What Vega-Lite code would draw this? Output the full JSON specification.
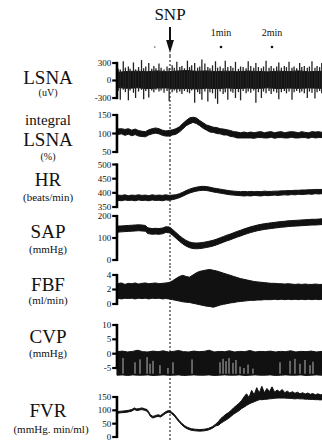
{
"$schema":"https://vega.github.io/schema/vega-lite/v6.json",
"autosize":{"type":"pad"},
"padding":0,
"background":"white",
"spacing":0,
"bounds":"flush",
"data":{"values":[{}]},
"config":{"view":{"stroke":null}},
"datasets":{
"lsnaband":[{"t":-62.4,"lo":-120,"hi":140},{"t":-50,"lo":-135,"hi":155},{"t":-38,"lo":-125,"hi":160},{"t":-27,"lo":-140,"hi":150},{"t":-15,"lo":-130,"hi":165},{"t":-4,"lo":-128,"hi":150},{"t":8,"lo":-142,"hi":162},{"t":20,"lo":-135,"hi":170},{"t":31,"lo":-145,"hi":158},{"t":43,"lo":-132,"hi":165},{"t":55,"lo":-140,"hi":152},{"t":67,"lo":-128,"hi":160},{"t":79,"lo":-138,"hi":150},{"t":91,"lo":-130,"hi":162},{"t":103,"lo":-136,"hi":155},{"t":115,"lo":-126,"hi":148},{"t":127,"lo":-138,"hi":160},{"t":139,"lo":-130,"hi":152},{"t":151,"lo":-135,"hi":165},{"t":163,"lo":-128,"hi":150},{"t":178.8,"lo":-134,"hi":158}],
"lsna":[{"t":-61,"lo":-180,"hi":200},{"t":-58.5,"lo":-330,"hi":190},{"t":-55,"lo":-160,"hi":330},{"t":-52.5,"lo":-200,"hi":220},{"t":-49,"lo":-340,"hi":240},{"t":-47,"lo":-170,"hi":200},{"t":-43,"lo":-210,"hi":310},{"t":-40.5,"lo":-300,"hi":190},{"t":-37,"lo":-190,"hi":230},{"t":-33.5,"lo":-160,"hi":350},{"t":-31,"lo":-320,"hi":210},{"t":-28.5,"lo":-180,"hi":240},{"t":-25,"lo":-290,"hi":300},{"t":-21.5,"lo":-170,"hi":200},{"t":-19,"lo":-200,"hi":250},{"t":-16.5,"lo":-160,"hi":210},{"t":-13,"lo":-190,"hi":290},{"t":-10.5,"lo":-170,"hi":220},{"t":-7,"lo":-210,"hi":190},{"t":-3.5,"lo":-180,"hi":240},{"t":-1,"lo":-350,"hi":210},{"t":2.5,"lo":-200,"hi":260},{"t":5,"lo":-170,"hi":220},{"t":8,"lo":-210,"hi":320},{"t":11.5,"lo":-190,"hi":230},{"t":14,"lo":-230,"hi":250},{"t":17,"lo":-180,"hi":210},{"t":20.5,"lo":-200,"hi":340},{"t":23,"lo":-220,"hi":230},{"t":25.5,"lo":-170,"hi":260},{"t":29,"lo":-380,"hi":300},{"t":32.5,"lo":-200,"hi":220},{"t":35,"lo":-230,"hi":240},{"t":37.5,"lo":-330,"hi":360},{"t":41,"lo":-190,"hi":290},{"t":44.5,"lo":-360,"hi":230},{"t":47,"lo":-200,"hi":210},{"t":50,"lo":-220,"hi":260},{"t":53.5,"lo":-310,"hi":330},{"t":56,"lo":-400,"hi":220},{"t":59,"lo":-190,"hi":240},{"t":62.5,"lo":-230,"hi":210},{"t":65,"lo":-200,"hi":340},{"t":68,"lo":-330,"hi":230},{"t":71.5,"lo":-190,"hi":250},{"t":74,"lo":-210,"hi":220},{"t":77,"lo":-300,"hi":320},{"t":80.5,"lo":-200,"hi":200},{"t":83,"lo":-340,"hi":240},{"t":86,"lo":-180,"hi":230},{"t":89.5,"lo":-220,"hi":210},{"t":92,"lo":-190,"hi":330},{"t":95,"lo":-210,"hi":250},{"t":98.5,"lo":-170,"hi":220},{"t":101,"lo":-380,"hi":300},{"t":104,"lo":-200,"hi":230},{"t":107.5,"lo":-300,"hi":210},{"t":110,"lo":-190,"hi":240},{"t":113,"lo":-220,"hi":340},{"t":116.5,"lo":-180,"hi":220},{"t":119,"lo":-230,"hi":250},{"t":122,"lo":-190,"hi":210},{"t":125.5,"lo":-210,"hi":240},{"t":128,"lo":-320,"hi":310},{"t":131,"lo":-200,"hi":220},{"t":134.5,"lo":-180,"hi":250},{"t":137,"lo":-220,"hi":230},{"t":140,"lo":-190,"hi":320},{"t":143.5,"lo":-330,"hi":220},{"t":146,"lo":-200,"hi":240},{"t":149,"lo":-180,"hi":210},{"t":152.5,"lo":-210,"hi":300},{"t":155,"lo":-190,"hi":230},{"t":158,"lo":-220,"hi":250},{"t":161.5,"lo":-300,"hi":220},{"t":164,"lo":-190,"hi":240},{"t":167,"lo":-210,"hi":330},{"t":170.5,"lo":-310,"hi":220},{"t":173,"lo":-200,"hi":250},{"t":176,"lo":-180,"hi":230},{"t":178.5,"lo":-220,"hi":300}],
"ilsna":[{"t":-62.4,"lo":97,"hi":112},{"t":-57,"lo":99,"hi":113},{"t":-53,"lo":95,"hi":111},{"t":-49,"lo":98,"hi":113},{"t":-45,"lo":94,"hi":109},{"t":-41,"lo":97,"hi":112},{"t":-37,"lo":93,"hi":108},{"t":-33,"lo":92,"hi":106},{"t":-29,"lo":91,"hi":105},{"t":-25,"lo":96,"hi":110},{"t":-21,"lo":99,"hi":113},{"t":-17,"lo":101,"hi":115},{"t":-13,"lo":99,"hi":113},{"t":-9,"lo":95,"hi":109},{"t":-5,"lo":93,"hi":107},{"t":-1,"lo":93,"hi":108},{"t":3,"lo":96,"hi":110},{"t":7,"lo":98,"hi":113},{"t":11,"lo":104,"hi":118},{"t":15,"lo":112,"hi":127},{"t":19,"lo":121,"hi":135},{"t":23,"lo":126,"hi":142},{"t":27,"lo":130,"hi":144},{"t":31,"lo":127,"hi":142},{"t":35,"lo":121,"hi":135},{"t":39,"lo":114,"hi":129},{"t":43,"lo":109,"hi":123},{"t":47,"lo":104,"hi":120},{"t":51,"lo":103,"hi":117},{"t":55,"lo":100,"hi":116},{"t":59,"lo":99,"hi":113},{"t":63,"lo":96,"hi":112},{"t":67,"lo":96,"hi":110},{"t":71,"lo":92,"hi":108},{"t":75,"lo":91,"hi":105},{"t":79,"lo":88,"hi":104},{"t":83,"lo":88,"hi":102},{"t":87,"lo":88,"hi":104},{"t":91,"lo":88,"hi":102},{"t":95,"lo":88,"hi":104},{"t":99,"lo":87,"hi":102},{"t":103,"lo":89,"hi":104},{"t":107,"lo":89,"hi":105},{"t":111,"lo":88,"hi":102},{"t":115,"lo":88,"hi":104},{"t":119,"lo":90,"hi":105},{"t":123,"lo":87,"hi":102},{"t":127,"lo":89,"hi":104},{"t":131,"lo":89,"hi":105},{"t":135,"lo":88,"hi":102},{"t":139,"lo":88,"hi":104},{"t":143,"lo":90,"hi":105},{"t":147,"lo":88,"hi":104},{"t":151,"lo":88,"hi":102},{"t":155,"lo":89,"hi":105},{"t":159,"lo":89,"hi":103},{"t":163,"lo":87,"hi":102},{"t":167,"lo":90,"hi":105},{"t":171,"lo":88,"hi":104},{"t":175,"lo":89,"hi":105},{"t":178.8,"lo":89,"hi":103}],
"hr":[{"t":-62.4,"lo":374,"hi":392},{"t":-57,"lo":372,"hi":391},{"t":-53,"lo":375,"hi":393},{"t":-49,"lo":373,"hi":390},{"t":-45,"lo":374,"hi":392},{"t":-41,"lo":372,"hi":391},{"t":-37,"lo":375,"hi":393},{"t":-33,"lo":373,"hi":391},{"t":-29,"lo":374,"hi":392},{"t":-25,"lo":372,"hi":390},{"t":-21,"lo":375,"hi":393},{"t":-17,"lo":373,"hi":391},{"t":-13,"lo":374,"hi":392},{"t":-9,"lo":372,"hi":391},{"t":-5,"lo":375,"hi":393},{"t":-1,"lo":374,"hi":391},{"t":3,"lo":376,"hi":392},{"t":7,"lo":379,"hi":393},{"t":11,"lo":383,"hi":397},{"t":15,"lo":388,"hi":402},{"t":19,"lo":394,"hi":408},{"t":23,"lo":399,"hi":413},{"t":27,"lo":403,"hi":417},{"t":31,"lo":406,"hi":420},{"t":35,"lo":408,"hi":422},{"t":39,"lo":409,"hi":423},{"t":43,"lo":408,"hi":422},{"t":47,"lo":406,"hi":420},{"t":51,"lo":403,"hi":417},{"t":55,"lo":401,"hi":415},{"t":59,"lo":399,"hi":413},{"t":63,"lo":397,"hi":411},{"t":67,"lo":395,"hi":409},{"t":71,"lo":393,"hi":407},{"t":75,"lo":392,"hi":406},{"t":79,"lo":391,"hi":405},{"t":83,"lo":390,"hi":404},{"t":87,"lo":389,"hi":405},{"t":91,"lo":390,"hi":404},{"t":95,"lo":389,"hi":405},{"t":99,"lo":391,"hi":404},{"t":103,"lo":390,"hi":405},{"t":107,"lo":389,"hi":404},{"t":111,"lo":391,"hi":406},{"t":115,"lo":390,"hi":405},{"t":119,"lo":391,"hi":405},{"t":123,"lo":392,"hi":406},{"t":127,"lo":391,"hi":406},{"t":131,"lo":392,"hi":407},{"t":135,"lo":393,"hi":407},{"t":139,"lo":392,"hi":408},{"t":143,"lo":394,"hi":408},{"t":147,"lo":393,"hi":409},{"t":151,"lo":395,"hi":409},{"t":155,"lo":394,"hi":410},{"t":159,"lo":395,"hi":410},{"t":163,"lo":396,"hi":411},{"t":167,"lo":395,"hi":411},{"t":171,"lo":397,"hi":412},{"t":175,"lo":396,"hi":412},{"t":178.8,"lo":397,"hi":412}],
"sap":[{"t":-62.4,"lo":126,"hi":154},{"t":-57,"lo":128,"hi":155},{"t":-53,"lo":129,"hi":156},{"t":-49,"lo":130,"hi":157},{"t":-45,"lo":131,"hi":158},{"t":-41,"lo":132,"hi":159},{"t":-37,"lo":133,"hi":160},{"t":-33,"lo":132,"hi":159},{"t":-29,"lo":131,"hi":157},{"t":-26,"lo":120,"hi":146},{"t":-21,"lo":117,"hi":143},{"t":-17,"lo":118,"hi":144},{"t":-13,"lo":117,"hi":143},{"t":-9,"lo":119,"hi":145},{"t":-5,"lo":125,"hi":151},{"t":-1,"lo":124,"hi":150},{"t":3,"lo":113,"hi":139},{"t":7,"lo":99,"hi":125},{"t":11,"lo":85,"hi":111},{"t":15,"lo":73,"hi":99},{"t":19,"lo":63,"hi":89},{"t":23,"lo":56,"hi":82},{"t":27,"lo":52,"hi":78},{"t":31,"lo":51,"hi":77},{"t":35,"lo":52,"hi":78},{"t":39,"lo":54,"hi":80},{"t":43,"lo":57,"hi":83},{"t":47,"lo":60,"hi":86},{"t":51,"lo":64,"hi":90},{"t":55,"lo":69,"hi":95},{"t":59,"lo":75,"hi":101},{"t":63,"lo":81,"hi":107},{"t":67,"lo":87,"hi":113},{"t":71,"lo":92,"hi":118},{"t":75,"lo":98,"hi":124},{"t":79,"lo":104,"hi":130},{"t":83,"lo":109,"hi":135},{"t":87,"lo":115,"hi":141},{"t":91,"lo":120,"hi":146},{"t":95,"lo":125,"hi":151},{"t":99,"lo":129,"hi":155},{"t":103,"lo":133,"hi":159},{"t":107,"lo":136,"hi":162},{"t":111,"lo":139,"hi":165},{"t":115,"lo":141,"hi":167},{"t":119,"lo":143,"hi":169},{"t":123,"lo":145,"hi":171},{"t":127,"lo":147,"hi":173},{"t":131,"lo":149,"hi":175},{"t":135,"lo":150,"hi":176},{"t":139,"lo":152,"hi":178},{"t":143,"lo":153,"hi":179},{"t":147,"lo":154,"hi":180},{"t":151,"lo":155,"hi":181},{"t":155,"lo":156,"hi":182},{"t":159,"lo":157,"hi":183},{"t":163,"lo":158,"hi":184},{"t":167,"lo":159,"hi":185},{"t":171,"lo":159,"hi":185},{"t":175,"lo":160,"hi":186},{"t":178.8,"lo":161,"hi":187}],
"fbf":[{"t":-62.4,"lo":0.8,"hi":2.8},{"t":-57,"lo":0.7,"hi":2.9},{"t":-53,"lo":0.8,"hi":2.7},{"t":-49,"lo":0.75,"hi":2.85},{"t":-45,"lo":0.8,"hi":2.8},{"t":-41,"lo":0.7,"hi":2.9},{"t":-37,"lo":0.8,"hi":2.75},{"t":-33,"lo":0.75,"hi":2.85},{"t":-29,"lo":0.8,"hi":2.9},{"t":-25,"lo":0.7,"hi":2.8},{"t":-21,"lo":0.8,"hi":2.85},{"t":-17,"lo":0.75,"hi":2.9},{"t":-13,"lo":0.8,"hi":2.8},{"t":-9,"lo":0.7,"hi":2.85},{"t":-5,"lo":0.75,"hi":2.9},{"t":-1,"lo":0.7,"hi":2.95},{"t":3,"lo":0.6,"hi":3.2},{"t":7,"lo":0.5,"hi":3.5},{"t":11,"lo":0.4,"hi":3.8},{"t":15,"lo":0.3,"hi":3.95},{"t":19,"lo":0.25,"hi":3.8},{"t":23,"lo":0.2,"hi":3.7},{"t":27,"lo":0.1,"hi":4.0},{"t":31,"lo":0.0,"hi":4.3},{"t":35,"lo":-0.1,"hi":4.5},{"t":39,"lo":-0.2,"hi":4.6},{"t":43,"lo":-0.3,"hi":4.7},{"t":47,"lo":-0.35,"hi":4.75},{"t":51,"lo":-0.45,"hi":4.65},{"t":55,"lo":-0.3,"hi":4.55},{"t":59,"lo":-0.15,"hi":4.4},{"t":63,"lo":-0.05,"hi":4.25},{"t":67,"lo":0.05,"hi":4.1},{"t":71,"lo":0.15,"hi":3.95},{"t":75,"lo":0.2,"hi":3.8},{"t":79,"lo":0.3,"hi":3.65},{"t":83,"lo":0.35,"hi":3.5},{"t":87,"lo":0.4,"hi":3.4},{"t":91,"lo":0.45,"hi":3.3},{"t":95,"lo":0.5,"hi":3.2},{"t":99,"lo":0.5,"hi":3.1},{"t":103,"lo":0.55,"hi":3.05},{"t":107,"lo":0.55,"hi":3.0},{"t":111,"lo":0.6,"hi":2.95},{"t":115,"lo":0.6,"hi":2.9},{"t":119,"lo":0.6,"hi":2.85},{"t":123,"lo":0.65,"hi":2.85},{"t":127,"lo":0.6,"hi":2.8},{"t":131,"lo":0.65,"hi":2.8},{"t":135,"lo":0.6,"hi":2.75},{"t":139,"lo":0.65,"hi":2.8},{"t":143,"lo":0.6,"hi":2.75},{"t":147,"lo":0.65,"hi":2.7},{"t":151,"lo":0.6,"hi":2.75},{"t":155,"lo":0.65,"hi":2.7},{"t":159,"lo":0.6,"hi":2.75},{"t":163,"lo":0.65,"hi":2.7},{"t":167,"lo":0.6,"hi":2.7},{"t":171,"lo":0.65,"hi":2.75},{"t":175,"lo":0.6,"hi":2.7},{"t":178.8,"lo":0.65,"hi":2.7}],
"cvp":[{"t":-62.4,"lo":-7.5,"hi":0.7},{"t":-56,"lo":-7.4,"hi":0.9},{"t":-50,"lo":-7.6,"hi":0.6},{"t":-44,"lo":-7.4,"hi":0.8},{"t":-38,"lo":-7.5,"hi":1.2},{"t":-32,"lo":-7.5,"hi":0.7},{"t":-26,"lo":-7.4,"hi":0.6},{"t":-20,"lo":-7.6,"hi":0.9},{"t":-14,"lo":-7.5,"hi":0.7},{"t":-8,"lo":-7.4,"hi":1.0},{"t":-2,"lo":-7.5,"hi":0.6},{"t":4,"lo":-7.5,"hi":0.8},{"t":10,"lo":-7.4,"hi":1.1},{"t":16,"lo":-7.6,"hi":0.7},{"t":22,"lo":-7.5,"hi":0.6},{"t":28,"lo":-7.4,"hi":0.9},{"t":34,"lo":-7.5,"hi":0.7},{"t":40,"lo":-7.5,"hi":0.8},{"t":46,"lo":-7.4,"hi":1.2},{"t":52,"lo":-7.6,"hi":0.6},{"t":58,"lo":-7.5,"hi":0.8},{"t":64,"lo":-7.4,"hi":0.7},{"t":70,"lo":-7.5,"hi":1.0},{"t":76,"lo":-7.5,"hi":0.6},{"t":82,"lo":-7.4,"hi":0.8},{"t":88,"lo":-7.6,"hi":0.7},{"t":94,"lo":-7.5,"hi":1.1},{"t":100,"lo":-7.4,"hi":0.6},{"t":106,"lo":-7.5,"hi":0.8},{"t":112,"lo":-7.5,"hi":0.7},{"t":118,"lo":-7.4,"hi":0.9},{"t":124,"lo":-7.6,"hi":0.6},{"t":130,"lo":-7.5,"hi":0.8},{"t":136,"lo":-7.4,"hi":0.7},{"t":142,"lo":-7.5,"hi":1.0},{"t":148,"lo":-7.5,"hi":0.6},{"t":154,"lo":-7.4,"hi":0.8},{"t":160,"lo":-7.6,"hi":0.7},{"t":166,"lo":-7.5,"hi":0.9},{"t":172,"lo":-7.4,"hi":0.6},{"t":178.8,"lo":-7.5,"hi":0.8}],
"cvpg":[{"t":-55.3,"lo":-7,"hi":-1.5},{"t":-41.2,"lo":-7,"hi":-3},{"t":-35.3,"lo":-7,"hi":-2},{"t":-27,"lo":-7,"hi":-1.2},{"t":-23.5,"lo":-7,"hi":-3.5},{"t":-20,"lo":-7,"hi":-2.5},{"t":-11.8,"lo":-7,"hi":-4},{"t":-2.4,"lo":-7,"hi":-5},{"t":3.5,"lo":-7,"hi":-3},{"t":25.9,"lo":-7,"hi":-2},{"t":58.8,"lo":-7,"hi":-3},{"t":62.4,"lo":-7,"hi":-1.8},{"t":65.9,"lo":-7,"hi":-2.6},{"t":69.4,"lo":-7,"hi":-1.5},{"t":74.1,"lo":-7,"hi":-3.2},{"t":77.6,"lo":-7,"hi":-2.2},{"t":82.4,"lo":-7,"hi":-4.5},{"t":87,"lo":-7,"hi":-5},{"t":91.8,"lo":-7,"hi":-3.8},{"t":97.6,"lo":-7,"hi":-5.2},{"t":129.4,"lo":-7,"hi":-3},{"t":141.2,"lo":-7,"hi":-2.5},{"t":147,"lo":-7,"hi":-1.8},{"t":152.9,"lo":-7,"hi":-3.5},{"t":158.8,"lo":-7,"hi":-2.2},{"t":164.7,"lo":-7,"hi":-4},{"t":168.2,"lo":-7,"hi":-2.8}],
"fvr":[{"t":-62.4,"lo":89,"hi":95},{"t":-57,"lo":91,"hi":97},{"t":-53,"lo":92,"hi":98},{"t":-49,"lo":94,"hi":100},{"t":-45,"lo":97,"hi":103},{"t":-42,"lo":103,"hi":109},{"t":-39,"lo":99,"hi":105},{"t":-36,"lo":101,"hi":107},{"t":-33,"lo":103,"hi":109},{"t":-30,"lo":100,"hi":106},{"t":-27,"lo":97,"hi":103},{"t":-25,"lo":88,"hi":94},{"t":-23,"lo":77,"hi":83},{"t":-20,"lo":71,"hi":77},{"t":-17,"lo":75,"hi":81},{"t":-14,"lo":77,"hi":83},{"t":-11,"lo":75,"hi":81},{"t":-8,"lo":82,"hi":88},{"t":-5,"lo":89,"hi":95},{"t":-2,"lo":93,"hi":99},{"t":0,"lo":92,"hi":98},{"t":2,"lo":87,"hi":93},{"t":5,"lo":79,"hi":85},{"t":8,"lo":67,"hi":73},{"t":11,"lo":55,"hi":61},{"t":14,"lo":45,"hi":51},{"t":17,"lo":37,"hi":43},{"t":20,"lo":31,"hi":37},{"t":25,"lo":25,"hi":31},{"t":30,"lo":23,"hi":29},{"t":35,"lo":22,"hi":28},{"t":40,"lo":23,"hi":29},{"t":45,"lo":26,"hi":32},{"t":50,"lo":33,"hi":39},{"t":54,"lo":42,"hi":49},{"t":57,"lo":44,"hi":58},{"t":60,"lo":52,"hi":70},{"t":63,"lo":58,"hi":78},{"t":66,"lo":64,"hi":86},{"t":69,"lo":70,"hi":92},{"t":72,"lo":78,"hi":100},{"t":75,"lo":86,"hi":110},{"t":78,"lo":92,"hi":118},{"t":81,"lo":98,"hi":126},{"t":84,"lo":106,"hi":136},{"t":87,"lo":112,"hi":150},{"t":90,"lo":118,"hi":162},{"t":93,"lo":124,"hi":148},{"t":96,"lo":128,"hi":175},{"t":99,"lo":132,"hi":158},{"t":102,"lo":136,"hi":185},{"t":105,"lo":140,"hi":165},{"t":108,"lo":140,"hi":190},{"t":111,"lo":141,"hi":166},{"t":114,"lo":142,"hi":182},{"t":117,"lo":143,"hi":170},{"t":120,"lo":144,"hi":188},{"t":123,"lo":145,"hi":168},{"t":126,"lo":146,"hi":176},{"t":129,"lo":146,"hi":170},{"t":132,"lo":146,"hi":178},{"t":135,"lo":146,"hi":166},{"t":138,"lo":145,"hi":172},{"t":141,"lo":145,"hi":165},{"t":144,"lo":144,"hi":170},{"t":147,"lo":143,"hi":164},{"t":150,"lo":144,"hi":168},{"t":153,"lo":143,"hi":162},{"t":156,"lo":143,"hi":166},{"t":159,"lo":142,"hi":161},{"t":162,"lo":142,"hi":165},{"t":165,"lo":141,"hi":160},{"t":168,"lo":141,"hi":163},{"t":171,"lo":140,"hi":158},{"t":174,"lo":140,"hi":162},{"t":177,"lo":139,"hi":158},{"t":178.8,"lo":140,"hi":160}],
"marks":[{"t":60,"label":"1min"},{"t":120,"label":"2min"}],
"k1":[{"v":-300,"label":"-300"},{"v":0,"label":"0"},{"v":300,"label":"300"}],
"k2":[{"v":50,"label":"50"},{"v":100,"label":"100"},{"v":150,"label":"150"}],
"k3":[{"v":350,"label":"350"},{"v":400,"label":"400"},{"v":450,"label":"450"},{"v":500,"label":"500"}],
"k4":[{"v":0,"label":"0"},{"v":100,"label":"100"},{"v":200,"label":"200"}],
"k5":[{"v":0,"label":"0"},{"v":2,"label":"2"},{"v":4,"label":"4"}],
"k6":[{"v":-5,"label":"-5"},{"v":0,"label":"0"},{"v":5,"label":"5"},{"v":10,"label":"10"}],
"k7":[{"v":0,"label":"0"},{"v":50,"label":"50"},{"v":100,"label":"100"},{"v":150,"label":"150"}]
},
"vconcat":[
{"width":322,"height":56,"layer":[
 {"mark":{"type":"rule","strokeDash":[2,2],"strokeWidth":1.3,"color":"#444"},"encoding":{"x":{"datum":0,"type":"quantitative","scale":{"domain":[-200,178.8],"nice":false,"zero":false},"axis":null},"y":{"datum":0,"type":"quantitative","scale":{"domain":[0,56],"nice":false,"zero":false},"axis":null},"y2":{"datum":4}}},
 {"mark":{"type":"text","text":"SNP","font":"Liberation Serif","fontSize":17,"color":"#111","baseline":"middle"},"encoding":{"x":{"datum":0,"type":"quantitative","scale":{"domain":[-200,178.8],"nice":false,"zero":false},"axis":null},"y":{"datum":41,"type":"quantitative","scale":{"domain":[0,56],"nice":false,"zero":false},"axis":null}}},
 {"mark":{"type":"rule","strokeWidth":2,"color":"#111"},"encoding":{"x":{"datum":0,"type":"quantitative","scale":{"domain":[-200,178.8],"nice":false,"zero":false},"axis":null},"y":{"datum":29,"type":"quantitative","scale":{"domain":[0,56],"nice":false,"zero":false},"axis":null},"y2":{"datum":14}}},
 {"mark":{"type":"point","shape":"M-0.6,-1L0.6,-1L0,1Z","size":169,"filled":true,"color":"#111","opacity":1},"encoding":{"x":{"datum":0,"type":"quantitative","scale":{"domain":[-200,178.8],"nice":false,"zero":false},"axis":null},"y":{"datum":9.5,"type":"quantitative","scale":{"domain":[0,56],"nice":false,"zero":false},"axis":null}}},
 {"data":{"name":"marks"},"mark":{"type":"text","font":"Liberation Serif","fontSize":10,"color":"#111","baseline":"middle"},"encoding":{"x":{"field":"t","type":"quantitative","scale":{"domain":[-200,178.8],"nice":false,"zero":false},"axis":null},"y":{"datum":23,"type":"quantitative","scale":{"domain":[0,56],"nice":false,"zero":false},"axis":null},"text":{"field":"label"}}},
 {"data":{"name":"marks"},"mark":{"type":"point","shape":"circle","size":7,"filled":true,"color":"#111","opacity":1},"encoding":{"x":{"field":"t","type":"quantitative","scale":{"domain":[-200,178.8],"nice":false,"zero":false},"axis":null},"y":{"datum":9,"type":"quantitative","scale":{"domain":[0,56],"nice":false,"zero":false},"axis":null}}},
 {"mark":{"type":"point","shape":"circle","size":3,"filled":true,"color":"#777","opacity":1},"encoding":{"x":{"datum":-18,"type":"quantitative","scale":{"domain":[-200,178.8],"nice":false,"zero":false},"axis":null},"y":{"datum":9,"type":"quantitative","scale":{"domain":[0,56],"nice":false,"zero":false},"axis":null}}}
]},
{"width":322,"height":51,"layer":[
 {"mark":{"type":"rule","strokeDash":[2,2],"strokeWidth":1.3,"color":"#444"},"encoding":{"x":{"datum":0,"type":"quantitative","scale":{"domain":[-200,178.8],"nice":false,"zero":false},"axis":null}}},
 {"data":{"name":"lsnaband"},"mark":{"type":"area","color":"#111","stroke":"#111","strokeWidth":1},"encoding":{"x":{"field":"t","type":"quantitative","scale":{"domain":[-200,178.8],"nice":false,"zero":false},"axis":null},"y":{"field":"lo","type":"quantitative","scale":{"domain":[-454.3,420],"nice":false,"zero":false},"axis":null},"y2":{"field":"hi"}}},
 {"data":{"name":"lsna"},"mark":{"type":"rule","strokeWidth":1.3,"color":"#222"},"encoding":{"x":{"field":"t","type":"quantitative","scale":{"domain":[-200,178.8],"nice":false,"zero":false},"axis":null},"y":{"field":"lo","type":"quantitative","scale":{"domain":[-454.3,420],"nice":false,"zero":false},"axis":null},"y2":{"field":"hi"}}},
 {"mark":{"type":"rule","strokeWidth":2.6,"color":"black"},"encoding":{"x":{"datum":-62.4,"type":"quantitative","scale":{"domain":[-200,178.8],"nice":false,"zero":false},"axis":null},"y":{"datum":-320,"type":"quantitative","scale":{"domain":[-454.3,420],"nice":false,"zero":false},"axis":null},"y2":{"datum":320}}},
 {"data":{"name":"k1"},"mark":{"type":"rule","strokeWidth":2.2,"color":"black"},"encoding":{"x":{"datum":-68.0,"type":"quantitative","scale":{"domain":[-200,178.8],"nice":false,"zero":false},"axis":null},"x2":{"datum":-62.4},"y":{"field":"v","type":"quantitative","scale":{"domain":[-454.3,420],"nice":false,"zero":false},"axis":null}}},
 {"data":{"name":"k1"},"mark":{"type":"text","align":"right","baseline":"middle","font":"Liberation Serif","fontSize":9,"color":"#111"},"encoding":{"x":{"datum":-69.2,"type":"quantitative","scale":{"domain":[-200,178.8],"nice":false,"zero":false},"axis":null},"y":{"field":"v","type":"quantitative","scale":{"domain":[-454.3,420],"nice":false,"zero":false},"axis":null},"text":{"field":"label"}}},
 {"mark":{"type":"text","text":"LSNA","font":"Liberation Serif","fontSize":19,"color":"#111","baseline":"middle"},"encoding":{"x":{"datum":-143.5,"type":"quantitative","scale":{"domain":[-200,178.8],"nice":false,"zero":false},"axis":null},"y":{"datum":43,"type":"quantitative","scale":{"domain":[-454.3,420],"nice":false,"zero":false},"axis":null}}},
 {"mark":{"type":"text","text":"(uV)","font":"Liberation Serif","fontSize":10,"color":"#111","baseline":"middle"},"encoding":{"x":{"datum":-143.5,"type":"quantitative","scale":{"domain":[-200,178.8],"nice":false,"zero":false},"axis":null},"y":{"datum":-214,"type":"quantitative","scale":{"domain":[-454.3,420],"nice":false,"zero":false},"axis":null}}}
]},
{"width":322,"height":53,"layer":[
 {"mark":{"type":"rule","strokeDash":[2,2],"strokeWidth":1.3,"color":"#444"},"encoding":{"x":{"datum":0,"type":"quantitative","scale":{"domain":[-200,178.8],"nice":false,"zero":false},"axis":null}}},
 {"data":{"name":"ilsna"},"mark":{"type":"area","color":"#111","stroke":"#111","strokeWidth":1},"encoding":{"x":{"field":"t","type":"quantitative","scale":{"domain":[-200,178.8],"nice":false,"zero":false},"axis":null},"y":{"field":"lo","type":"quantitative","scale":{"domain":[28.4,171.6],"nice":false,"zero":false},"axis":null},"y2":{"field":"hi"}}},
 {"mark":{"type":"rule","strokeWidth":2.6,"color":"black"},"encoding":{"x":{"datum":-62.4,"type":"quantitative","scale":{"domain":[-200,178.8],"nice":false,"zero":false},"axis":null},"y":{"datum":47,"type":"quantitative","scale":{"domain":[28.4,171.6],"nice":false,"zero":false},"axis":null},"y2":{"datum":153}}},
 {"data":{"name":"k2"},"mark":{"type":"rule","strokeWidth":2.2,"color":"black"},"encoding":{"x":{"datum":-68.0,"type":"quantitative","scale":{"domain":[-200,178.8],"nice":false,"zero":false},"axis":null},"x2":{"datum":-62.4},"y":{"field":"v","type":"quantitative","scale":{"domain":[28.4,171.6],"nice":false,"zero":false},"axis":null}}},
 {"data":{"name":"k2"},"mark":{"type":"text","align":"right","baseline":"middle","font":"Liberation Serif","fontSize":9,"color":"#111"},"encoding":{"x":{"datum":-69.2,"type":"quantitative","scale":{"domain":[-200,178.8],"nice":false,"zero":false},"axis":null},"y":{"field":"v","type":"quantitative","scale":{"domain":[28.4,171.6],"nice":false,"zero":false},"axis":null},"text":{"field":"label"}}},
 {"mark":{"type":"text","text":"integral","font":"Liberation Serif","fontSize":15,"color":"#111","baseline":"middle"},"encoding":{"x":{"datum":-143.5,"type":"quantitative","scale":{"domain":[-200,178.8],"nice":false,"zero":false},"axis":null},"y":{"datum":136.5,"type":"quantitative","scale":{"domain":[28.4,171.6],"nice":false,"zero":false},"axis":null}}},
 {"mark":{"type":"text","text":"LSNA","font":"Liberation Serif","fontSize":19,"color":"#111","baseline":"middle"},"encoding":{"x":{"datum":-143.5,"type":"quantitative","scale":{"domain":[-200,178.8],"nice":false,"zero":false},"axis":null},"y":{"datum":82.4,"type":"quantitative","scale":{"domain":[28.4,171.6],"nice":false,"zero":false},"axis":null}}},
 {"mark":{"type":"text","text":"(%)","font":"Liberation Serif","fontSize":10,"color":"#111","baseline":"middle"},"encoding":{"x":{"datum":-143.5,"type":"quantitative","scale":{"domain":[-200,178.8],"nice":false,"zero":false},"axis":null},"y":{"datum":36.5,"type":"quantitative","scale":{"domain":[28.4,171.6],"nice":false,"zero":false},"axis":null}}}
]},
{"width":322,"height":51,"layer":[
 {"mark":{"type":"rule","strokeDash":[2,2],"strokeWidth":1.3,"color":"#444"},"encoding":{"x":{"datum":0,"type":"quantitative","scale":{"domain":[-200,178.8],"nice":false,"zero":false},"axis":null}}},
 {"data":{"name":"hr"},"mark":{"type":"area","color":"#111","stroke":"#111","strokeWidth":1},"encoding":{"x":{"field":"t","type":"quantitative","scale":{"domain":[-200,178.8],"nice":false,"zero":false},"axis":null},"y":{"field":"lo","type":"quantitative","scale":{"domain":[335.9,515.9],"nice":false,"zero":false},"axis":null},"y2":{"field":"hi"}}},
 {"mark":{"type":"rule","strokeWidth":2.6,"color":"black"},"encoding":{"x":{"datum":-62.4,"type":"quantitative","scale":{"domain":[-200,178.8],"nice":false,"zero":false},"axis":null},"y":{"datum":346,"type":"quantitative","scale":{"domain":[335.9,515.9],"nice":false,"zero":false},"axis":null},"y2":{"datum":504}}},
 {"data":{"name":"k3"},"mark":{"type":"rule","strokeWidth":2.2,"color":"black"},"encoding":{"x":{"datum":-68.0,"type":"quantitative","scale":{"domain":[-200,178.8],"nice":false,"zero":false},"axis":null},"x2":{"datum":-62.4},"y":{"field":"v","type":"quantitative","scale":{"domain":[335.9,515.9],"nice":false,"zero":false},"axis":null}}},
 {"data":{"name":"k3"},"mark":{"type":"text","align":"right","baseline":"middle","font":"Liberation Serif","fontSize":9,"color":"#111"},"encoding":{"x":{"datum":-69.2,"type":"quantitative","scale":{"domain":[-200,178.8],"nice":false,"zero":false},"axis":null},"y":{"field":"v","type":"quantitative","scale":{"domain":[335.9,515.9],"nice":false,"zero":false},"axis":null},"text":{"field":"label"}}},
 {"mark":{"type":"text","text":"HR","font":"Liberation Serif","fontSize":19,"color":"#111","baseline":"middle"},"encoding":{"x":{"datum":-143.5,"type":"quantitative","scale":{"domain":[-200,178.8],"nice":false,"zero":false},"axis":null},"y":{"datum":445,"type":"quantitative","scale":{"domain":[335.9,515.9],"nice":false,"zero":false},"axis":null}}},
 {"mark":{"type":"text","text":"(beats/min)","font":"Liberation Serif","fontSize":11,"color":"#111","baseline":"middle"},"encoding":{"x":{"datum":-143.5,"type":"quantitative","scale":{"domain":[-200,178.8],"nice":false,"zero":false},"axis":null},"y":{"datum":382,"type":"quantitative","scale":{"domain":[335.9,515.9],"nice":false,"zero":false},"axis":null}}}
]},
{"width":322,"height":55,"layer":[
 {"mark":{"type":"rule","strokeDash":[2,2],"strokeWidth":1.3,"color":"#444"},"encoding":{"x":{"datum":0,"type":"quantitative","scale":{"domain":[-200,178.8],"nice":false,"zero":false},"axis":null}}},
 {"data":{"name":"sap"},"mark":{"type":"area","color":"#111","stroke":"#111","strokeWidth":1},"encoding":{"x":{"field":"t","type":"quantitative","scale":{"domain":[-200,178.8],"nice":false,"zero":false},"axis":null},"y":{"field":"lo","type":"quantitative","scale":{"domain":[-27.3,222.7],"nice":false,"zero":false},"axis":null},"y2":{"field":"hi"}}},
 {"mark":{"type":"rule","strokeWidth":2.6,"color":"black"},"encoding":{"x":{"datum":-62.4,"type":"quantitative","scale":{"domain":[-200,178.8],"nice":false,"zero":false},"axis":null},"y":{"datum":-5,"type":"quantitative","scale":{"domain":[-27.3,222.7],"nice":false,"zero":false},"axis":null},"y2":{"datum":205}}},
 {"data":{"name":"k4"},"mark":{"type":"rule","strokeWidth":2.2,"color":"black"},"encoding":{"x":{"datum":-68.0,"type":"quantitative","scale":{"domain":[-200,178.8],"nice":false,"zero":false},"axis":null},"x2":{"datum":-62.4},"y":{"field":"v","type":"quantitative","scale":{"domain":[-27.3,222.7],"nice":false,"zero":false},"axis":null}}},
 {"data":{"name":"k4"},"mark":{"type":"text","align":"right","baseline":"middle","font":"Liberation Serif","fontSize":9,"color":"#111"},"encoding":{"x":{"datum":-69.2,"type":"quantitative","scale":{"domain":[-200,178.8],"nice":false,"zero":false},"axis":null},"y":{"field":"v","type":"quantitative","scale":{"domain":[-27.3,222.7],"nice":false,"zero":false},"axis":null},"text":{"field":"label"}}},
 {"mark":{"type":"text","text":"SAP","font":"Liberation Serif","fontSize":19,"color":"#111","baseline":"middle"},"encoding":{"x":{"datum":-143.5,"type":"quantitative","scale":{"domain":[-200,178.8],"nice":false,"zero":false},"axis":null},"y":{"datum":127,"type":"quantitative","scale":{"domain":[-27.3,222.7],"nice":false,"zero":false},"axis":null}}},
 {"mark":{"type":"text","text":"(mmHg)","font":"Liberation Serif","fontSize":11,"color":"#111","baseline":"middle"},"encoding":{"x":{"datum":-143.5,"type":"quantitative","scale":{"domain":[-200,178.8],"nice":false,"zero":false},"axis":null},"y":{"datum":45.5,"type":"quantitative","scale":{"domain":[-27.3,222.7],"nice":false,"zero":false},"axis":null}}}
]},
{"width":322,"height":48,"layer":[
 {"mark":{"type":"rule","strokeDash":[2,2],"strokeWidth":1.3,"color":"#444"},"encoding":{"x":{"datum":0,"type":"quantitative","scale":{"domain":[-200,178.8],"nice":false,"zero":false},"axis":null}}},
 {"data":{"name":"fbf"},"mark":{"type":"area","color":"#111","stroke":"#111","strokeWidth":1},"encoding":{"x":{"field":"t","type":"quantitative","scale":{"domain":[-200,178.8],"nice":false,"zero":false},"axis":null},"y":{"field":"lo","type":"quantitative","scale":{"domain":[-1.38,5.24],"nice":false,"zero":false},"axis":null},"y2":{"field":"hi"}}},
 {"mark":{"type":"rule","strokeWidth":2.6,"color":"black"},"encoding":{"x":{"datum":-62.4,"type":"quantitative","scale":{"domain":[-200,178.8],"nice":false,"zero":false},"axis":null},"y":{"datum":-0.15,"type":"quantitative","scale":{"domain":[-1.38,5.24],"nice":false,"zero":false},"axis":null},"y2":{"datum":4.15}}},
 {"data":{"name":"k5"},"mark":{"type":"rule","strokeWidth":2.2,"color":"black"},"encoding":{"x":{"datum":-68.0,"type":"quantitative","scale":{"domain":[-200,178.8],"nice":false,"zero":false},"axis":null},"x2":{"datum":-62.4},"y":{"field":"v","type":"quantitative","scale":{"domain":[-1.38,5.24],"nice":false,"zero":false},"axis":null}}},
 {"data":{"name":"k5"},"mark":{"type":"text","align":"right","baseline":"middle","font":"Liberation Serif","fontSize":9,"color":"#111"},"encoding":{"x":{"datum":-69.2,"type":"quantitative","scale":{"domain":[-200,178.8],"nice":false,"zero":false},"axis":null},"y":{"field":"v","type":"quantitative","scale":{"domain":[-1.38,5.24],"nice":false,"zero":false},"axis":null},"text":{"field":"label"}}},
 {"mark":{"type":"text","text":"FBF","font":"Liberation Serif","fontSize":19,"color":"#111","baseline":"middle"},"encoding":{"x":{"datum":-143.5,"type":"quantitative","scale":{"domain":[-200,178.8],"nice":false,"zero":false},"axis":null},"y":{"datum":2.62,"type":"quantitative","scale":{"domain":[-1.38,5.24],"nice":false,"zero":false},"axis":null}}},
 {"mark":{"type":"text","text":"(ml/min)","font":"Liberation Serif","fontSize":11,"color":"#111","baseline":"middle"},"encoding":{"x":{"datum":-143.5,"type":"quantitative","scale":{"domain":[-200,178.8],"nice":false,"zero":false},"axis":null},"y":{"datum":0.41,"type":"quantitative","scale":{"domain":[-1.38,5.24],"nice":false,"zero":false},"axis":null}}}
]},
{"width":322,"height":68,"layer":[
 {"mark":{"type":"rule","strokeDash":[2,2],"strokeWidth":1.3,"color":"#444"},"encoding":{"x":{"datum":0,"type":"quantitative","scale":{"domain":[-200,178.8],"nice":false,"zero":false},"axis":null}}},
 {"data":{"name":"cvp"},"mark":{"type":"area","color":"#111","stroke":"#111","strokeWidth":1},"encoding":{"x":{"field":"t","type":"quantitative","scale":{"domain":[-200,178.8],"nice":false,"zero":false},"axis":null},"y":{"field":"lo","type":"quantitative","scale":{"domain":[-9.88,13.84],"nice":false,"zero":false},"axis":null},"y2":{"field":"hi"}}},
 {"data":{"name":"cvpg"},"mark":{"type":"rule","strokeWidth":1,"color":"#b5b5b5"},"encoding":{"x":{"field":"t","type":"quantitative","scale":{"domain":[-200,178.8],"nice":false,"zero":false},"axis":null},"y":{"field":"lo","type":"quantitative","scale":{"domain":[-9.88,13.84],"nice":false,"zero":false},"axis":null},"y2":{"field":"hi"}}},
 {"mark":{"type":"rule","strokeWidth":2.6,"color":"black"},"encoding":{"x":{"datum":-62.4,"type":"quantitative","scale":{"domain":[-200,178.8],"nice":false,"zero":false},"axis":null},"y":{"datum":-5.4,"type":"quantitative","scale":{"domain":[-9.88,13.84],"nice":false,"zero":false},"axis":null},"y2":{"datum":10.4}}},
 {"data":{"name":"k6"},"mark":{"type":"rule","strokeWidth":2.2,"color":"black"},"encoding":{"x":{"datum":-68.0,"type":"quantitative","scale":{"domain":[-200,178.8],"nice":false,"zero":false},"axis":null},"x2":{"datum":-62.4},"y":{"field":"v","type":"quantitative","scale":{"domain":[-9.88,13.84],"nice":false,"zero":false},"axis":null}}},
 {"data":{"name":"k6"},"mark":{"type":"text","align":"right","baseline":"middle","font":"Liberation Serif","fontSize":9,"color":"#111"},"encoding":{"x":{"datum":-69.2,"type":"quantitative","scale":{"domain":[-200,178.8],"nice":false,"zero":false},"axis":null},"y":{"field":"v","type":"quantitative","scale":{"domain":[-9.88,13.84],"nice":false,"zero":false},"axis":null},"text":{"field":"label"}}},
 {"mark":{"type":"text","text":"CVP","font":"Liberation Serif","fontSize":19,"color":"#111","baseline":"middle"},"encoding":{"x":{"datum":-143.5,"type":"quantitative","scale":{"domain":[-200,178.8],"nice":false,"zero":false},"axis":null},"y":{"datum":5.81,"type":"quantitative","scale":{"domain":[-9.88,13.84],"nice":false,"zero":false},"axis":null}}},
 {"mark":{"type":"text","text":"(mmHg)","font":"Liberation Serif","fontSize":11,"color":"#111","baseline":"middle"},"encoding":{"x":{"datum":-143.5,"type":"quantitative","scale":{"domain":[-200,178.8],"nice":false,"zero":false},"axis":null},"y":{"datum":-0.12,"type":"quantitative","scale":{"domain":[-9.88,13.84],"nice":false,"zero":false},"axis":null}}}
]},
{"width":322,"height":60,"layer":[
 {"mark":{"type":"rule","strokeDash":[2,2],"strokeWidth":1.3,"color":"#444"},"encoding":{"x":{"datum":0,"type":"quantitative","scale":{"domain":[-200,178.8],"nice":false,"zero":false},"axis":null}}},
 {"data":{"name":"fvr"},"mark":{"type":"area","color":"#111","stroke":"#111","strokeWidth":1},"encoding":{"x":{"field":"t","type":"quantitative","scale":{"domain":[-200,178.8],"nice":false,"zero":false},"axis":null},"y":{"field":"lo","type":"quantitative","scale":{"domain":[-18.75,206.25],"nice":false,"zero":false},"axis":null},"y2":{"field":"hi"}}},
 {"mark":{"type":"rule","strokeWidth":2.6,"color":"black"},"encoding":{"x":{"datum":-62.4,"type":"quantitative","scale":{"domain":[-200,178.8],"nice":false,"zero":false},"axis":null},"y":{"datum":-4,"type":"quantitative","scale":{"domain":[-18.75,206.25],"nice":false,"zero":false},"axis":null},"y2":{"datum":154}}},
 {"data":{"name":"k7"},"mark":{"type":"rule","strokeWidth":2.2,"color":"black"},"encoding":{"x":{"datum":-68.0,"type":"quantitative","scale":{"domain":[-200,178.8],"nice":false,"zero":false},"axis":null},"x2":{"datum":-62.4},"y":{"field":"v","type":"quantitative","scale":{"domain":[-18.75,206.25],"nice":false,"zero":false},"axis":null}}},
 {"data":{"name":"k7"},"mark":{"type":"text","align":"right","baseline":"middle","font":"Liberation Serif","fontSize":9,"color":"#111"},"encoding":{"x":{"datum":-69.2,"type":"quantitative","scale":{"domain":[-200,178.8],"nice":false,"zero":false},"axis":null},"y":{"field":"v","type":"quantitative","scale":{"domain":[-18.75,206.25],"nice":false,"zero":false},"axis":null},"text":{"field":"label"}}},
 {"mark":{"type":"text","text":"FVR","font":"Liberation Serif","fontSize":19,"color":"#111","baseline":"middle"},"encoding":{"x":{"datum":-143.5,"type":"quantitative","scale":{"domain":[-200,178.8],"nice":false,"zero":false},"axis":null},"y":{"datum":97.5,"type":"quantitative","scale":{"domain":[-18.75,206.25],"nice":false,"zero":false},"axis":null}}},
 {"mark":{"type":"text","text":"(mmHg. min/ml)","font":"Liberation Serif","fontSize":11,"color":"#111","baseline":"middle"},"encoding":{"x":{"datum":-140,"type":"quantitative","scale":{"domain":[-200,178.8],"nice":false,"zero":false},"axis":null},"y":{"datum":26.25,"type":"quantitative","scale":{"domain":[-18.75,206.25],"nice":false,"zero":false},"axis":null}}}
]}
]
}
